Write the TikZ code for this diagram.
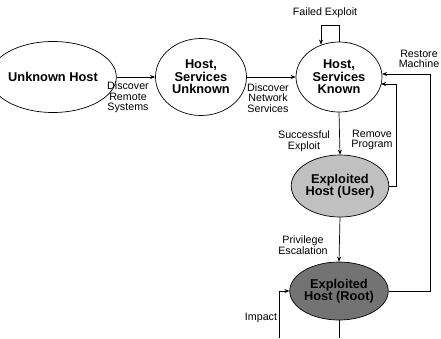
\documentclass[tikz,border=0pt]{standalone}
\usepackage{fontspec}
\setmainfont{Liberation Sans}
\usetikzlibrary{arrows.meta,calc,shapes.geometric}
\begin{document}
\begin{tikzpicture}[x=1pt,y=-1pt,
  state/.style={draw=black,line width=0.7pt,ellipse,inner sep=0pt,align=center,
    font=\fontsize{12.8}{12.6}\selectfont\bfseries},
  lbl/.style={align=center,inner sep=0pt,font=\fontsize{10.7}{10.5}\selectfont},
  conn/.style={draw=black,line width=0.7pt},
  arr/.style={conn,-{Stealth[length=5pt,width=4pt]}}]
\useasboundingbox (0,0) rectangle (441,338);
\node[state,minimum width=93pt,minimum height=71pt] (uh) at (53,77) {Unknown Host};
\node[state,minimum width=91pt,minimum height=77pt] (hsu) at (201,77) {Host,\\Services\\Unknown};
\node[state,minimum width=86pt,minimum height=70pt] (hsk) at (339,77) {Host,\\Services\\Known};
\node[state,fill={rgb,255:red,192;green,192;blue,192},minimum width=86pt,minimum height=62pt] (user) at (340,186) {Exploited\\Host (User)};
\node[state,fill={rgb,255:red,115;green,115;blue,115},minimum width=87pt,minimum height=58pt] (root) at (339,291) {Exploited\\Host (Root)};

\draw[arr] (uh.east) -- (hsu.west);
\draw[arr] (hsu.east) -- (hsk.west);
\draw[arr] (hsk.south) -- (user.north);
\draw[arr] (user.south) -- (root.north);

% failed exploit loop
\coordinate (fl) at (321,25);
\draw[arr] (hsk.north) |- (fl) -- (fl |- hsk.118);

% remove program
\coordinate (rp) at (396,84);
\draw[arr] (user.east) -| (rp) -- ($(hsk.center)+(42,7)$);

% restore machine
\coordinate (rm) at (430,74);
\draw[arr] (root.east) -| (rm) -- ($(hsk.center)+(43,-3)$);

% impact
\coordinate (im) at (279,338);
\draw[arr] (im) |- (root.west);

% downward line from root
\coordinate (rd) at (339,338);
\draw[conn] (root.south) -- (rd);

\node[lbl] (l1) at (128,97.5) {Discover\\Remote\\Systems};
\node[lbl] (l2) at (268,98) {Discover\\Network\\Services};
\node[lbl] (l3) at (325,13) {Failed Exploit};
\node[lbl] (l4) at (419,59) {Restore\\Machine};
\node[lbl] (l5) at (304,141) {Successful\\Exploit};
\node[lbl] (l6) at (372,140) {Remove\\Program};
\node[lbl] (l7) at (303,245) {Privilege\\Escalation};
\node[lbl] (l8) at (261,318) {Impact};
\end{tikzpicture}
\end{document}
